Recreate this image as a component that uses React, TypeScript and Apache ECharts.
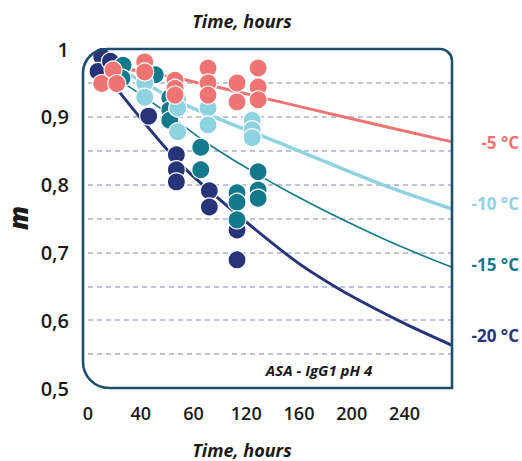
import React, { useEffect, useRef } from "react";
import * as echarts from "echarts";

// Tick labels (as printed on the original)
const xTickLabels = ["0", "40", "60", "120", "160", "200", "240"];
const yTickLabels = ["0,5", "0,6", "0,7", "0,8", "0,9", "1"];

// Measured points [hours, m]
const pointsMinus5: number[][] = [
  [10.4, 0.949], [19, 0.969], [21.8, 0.949],
  [43, 0.981], [43, 0.966],
  [66, 0.954], [66, 0.942], [66, 0.932],
  [91, 0.972], [91, 0.95], [91, 0.932],
  [113, 0.95], [113, 0.922],
  [129, 0.972], [129, 0.944], [129, 0.925],
];
const pointsMinus10: number[][] = [
  [43, 0.95], [43, 0.929],
  [68, 0.925], [68, 0.913], [68, 0.878],
  [91, 0.913], [91, 0.888],
  [124.5, 0.895], [124.5, 0.881], [124.5, 0.869],
];
const pointsMinus15: number[][] = [
  [26.6, 0.976], [25.8, 0.957], [51, 0.962],
  [62, 0.928], [62, 0.91], [62, 0.895],
  [85.5, 0.855], [85.5, 0.822],
  [113, 0.788], [113, 0.774], [113, 0.748],
  [129, 0.819], [129, 0.792], [129, 0.78],
];
const pointsMinus20: number[][] = [
  [10.4, 0.989], [7.6, 0.967], [17, 0.982],
  [46, 0.901],
  [67, 0.844], [67, 0.822], [67, 0.804],
  [92, 0.791], [92, 0.767],
  [113, 0.733], [113, 0.689],
];

// Fitted curves [hours, m]
const curveMinus5: number[][] = [
  [9, 0.978], [30.4, 0.97], [69.8, 0.956], [145.7, 0.922], [193.5, 0.9], [276, 0.863],
];
const curveMinus10: number[][] = [
  [9, 0.976], [33.4, 0.96], [69.8, 0.921], [153.3, 0.855], [221.6, 0.801], [276, 0.764],
];
const curveMinus15: number[][] = [
  [9, 0.969], [26.6, 0.95], [54.6, 0.913], [92.6, 0.858], [153.3, 0.788], [223.9, 0.72], [276, 0.678],
];
const curveMinus20: number[][] = [
  [9, 0.975], [18.2, 0.95], [58.4, 0.855], [82.7, 0.807], [153.3, 0.693], [191.3, 0.645], [239.1, 0.596], [276, 0.563],
];

const seriesNames = ["-5 °C", "-10 °C", "-15 °C", "-20 °C"];
const colors = ["#f07474", "#8fd3e0", "#137a8c", "#283479"];

const FONT = "'Open Sans', 'Noto Sans', sans-serif";

export default function App() {
  const ref = useRef<HTMLDivElement>(null);
  useEffect(() => {
    if (!ref.current) return;
    const chart = echarts.init(ref.current, null, { renderer: "svg" });
    const lineData = [curveMinus5, curveMinus10, curveMinus15, curveMinus20];
    const lineWidths = [3, 3.5, 1.6, 3];
    const pointData = [pointsMinus5, pointsMinus10, pointsMinus15, pointsMinus20];
    const lines = lineData.map((d, i) => ({
      type: "line",
      name: seriesNames[i] + " fit",
      data: d,
      smooth: 0.3,
      showSymbol: false,
      symbol: "none",
      lineStyle: { color: colors[i], width: lineWidths[i] },
      z: 2,
    }));
    const scatterOrder = [3, 2, 1, 0];
    const scatters = scatterOrder.map((i, k) => ({
      type: "scatter",
      name: seriesNames[i],
      data: pointData[i],
      symbolSize: 18,
      itemStyle: { color: colors[i], borderColor: "#ffffff", borderWidth: 1.2, opacity: 1 },
      z: 3 + k,
    }));
    const labelYs = [142, 203, 264, 335];
    chart.setOption({
      animation: false,
      grid: { left: 88, right: 70, top: 49, bottom: 73, outerBoundsMode: "none" },
      xAxis: {
        type: "value",
        min: 0,
        max: 276,
        interval: 40,
        axisLine: { show: false },
        axisTick: { show: false },
        splitLine: { show: false },
        axisLabel: {
          margin: 16,
          color: "#1a1a1a",
          fontFamily: FONT,
          fontWeight: 600,
          fontSize: 18,
          formatter: (v: number) => {
            const idx = Math.round(v / 40);
            return Math.abs(v - idx * 40) < 1e-6 && xTickLabels[idx] !== undefined ? xTickLabels[idx] : "";
          },
        },
      },
      yAxis: {
        type: "value",
        min: 0.5,
        max: 1,
        interval: 0.05,
        axisLine: { show: false },
        axisTick: { show: false },
        splitLine: {
          show: true,
          showMinLine: false,
          showMaxLine: false,
          lineStyle: { color: "#a9b0cc", width: 1.6, type: [5, 4] },
        },
        axisLabel: {
          margin: 19,
          color: "#1a1a1a",
          fontFamily: FONT,
          fontWeight: 600,
          fontSize: 20,
          formatter: (v: number) => {
            const k = Math.round(v * 100);
            if (k % 10 !== 0) return "";
            const idx = (k - 50) / 10;
            return yTickLabels[idx] ?? "";
          },
        },
      },
      graphic: [
        {
          type: "rect",
          shape: { x: 83, y: 49, width: 369, height: 339, r: [24, 12, 0, 26] },
          style: { fill: "none", stroke: "#1e4f6d", lineWidth: 2.6 },
          z: 10,
          silent: true,
        },
        {
          type: "text",
          x: 242,
          y: 21,
          style: {
            text: "Time, hours",
            fill: "#1a1a1a",
            font: `italic 700 18px ${FONT}`,
            textAlign: "center",
            textVerticalAlign: "middle",
          },
        },
        {
          type: "text",
          x: 242,
          y: 450,
          style: {
            text: "Time, hours",
            fill: "#1a1a1a",
            font: `italic 700 18px ${FONT}`,
            textAlign: "center",
            textVerticalAlign: "middle",
          },
        },
        {
          type: "text",
          x: 18,
          y: 218,
          rotation: Math.PI / 2,
          style: {
            text: "m",
            fill: "#1a1a1a",
            font: `italic 800 26px ${FONT}`,
            textAlign: "center",
            textVerticalAlign: "middle",
          },
        },
        {
          type: "text",
          x: 319,
          y: 370,
          style: {
            text: "ASA - IgG1 pH 4",
            fill: "#1a1a1a",
            font: `italic 700 15px ${FONT}`,
            textAlign: "center",
            textVerticalAlign: "middle",
          },
        },
        ...seriesNames.map((n, i) => ({
          type: "text",
          x: 519,
          y: labelYs[i],
          style: {
            text: n,
            fill: colors[i],
            font: `700 17px ${FONT}`,
            textAlign: "right",
            textVerticalAlign: "middle",
          },
        })),
      ],
      series: [...lines, ...scatters],
    });
    return () => chart.dispose();
  }, []);
  return (
    <div
      ref={ref}
      style={{ position: "absolute", left: 0, top: 0, width: 522, height: 461, background: "#fff" }}
    />
  );
}
